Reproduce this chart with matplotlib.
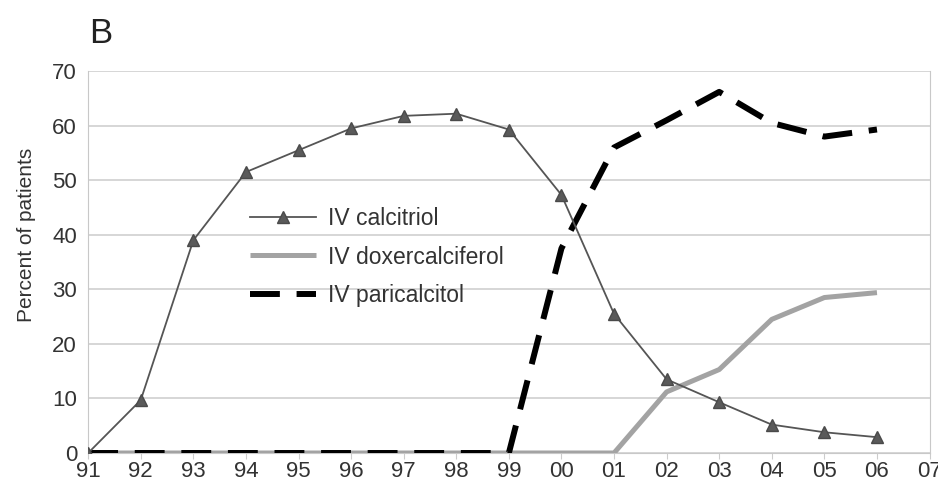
import matplotlib.pyplot as plt

years = ["91", "92", "93", "94", "95", "96", "97", "98", "99", "00",
         "01", "02", "03", "04", "05", "06", "07"]

calcitriol = [0, 9.7, 39, 51.5, 55.5, 59.5, 61.8, 62.2, 59.3, 47.3,
              25.5, 13.5, 9.3, 5.2, 3.8, 2.9]
doxercalciferol = [0, 0, 0, 0, 0, 0, 0, 0, 0, 0,
                   0, 11.2, 15.3, 24.5, 28.5, 29.4]
paricalcitol = [0, 0, 0, 0, 0, 0, 0, 0, 0, 37.5,
                56, 61, 66.2, 60.5, 58, 59.3]

plt.rcParams["font.family"] = ["Liberation Sans", "DejaVu Sans"]

fig = plt.figure(figsize=(9.38, 4.94), dpi=100)
ax = fig.add_axes([0.094, 0.083, 0.897, 0.773])

x = list(range(len(calcitriol)))

ax.plot(x, doxercalciferol, color="#a3a3a3", lw=3.6, solid_capstyle="butt",
        label="IV doxercalciferol", zorder=3)
ax.plot(x, paricalcitol, color="black", lw=4.3, dashes=(5.0, 2.8),
        label="IV paricalcitol", zorder=4)
ax.plot(x, calcitriol, color="#555555", lw=1.3, marker="^", ms=8,
        markerfacecolor="#5a5a5a", markeredgecolor="#4a4a4a",
        label="IV calcitriol", zorder=5)

ax.set_xlim(0, 16)
ax.set_ylim(0, 70)
ax.set_xticks(range(len(years)))
ax.set_xticklabels(years, fontsize=16, color="#333333")
ax.set_yticks(range(0, 71, 10))
ax.tick_params(axis="y", labelsize=16, labelcolor="#333333", length=0, pad=8)
ax.tick_params(axis="x", length=4, color="#cccccc", pad=2)
ax.set_ylabel("Percent of patients", fontsize=15, color="#333333")
ax.yaxis.set_label_coords(-0.062, 0.57)

ax.grid(axis="y", color="#d0d0d0", lw=1.2)
ax.set_axisbelow(True)
ax.spines["top"].set_visible(False)
ax.spines["left"].set_color("#c8c8c8")
ax.spines["right"].set_color("#c8c8c8")
ax.spines["bottom"].set_color("#c8c8c8")

handles, labels = ax.get_legend_handles_labels()
order = [2, 0, 1]
ax.legend([handles[i] for i in order], [labels[i] for i in order],
          loc="upper left", bbox_to_anchor=(0.192, 0.645), frameon=False,
          fontsize=16.5, handlelength=2.9, handletextpad=0.5,
          labelspacing=0.69, borderpad=0, borderaxespad=0,
          labelcolor="#333333")

fig.text(0.095, 0.912, "B", fontsize=25, color="#222222")

fig.savefig("out.png", dpi=100)
